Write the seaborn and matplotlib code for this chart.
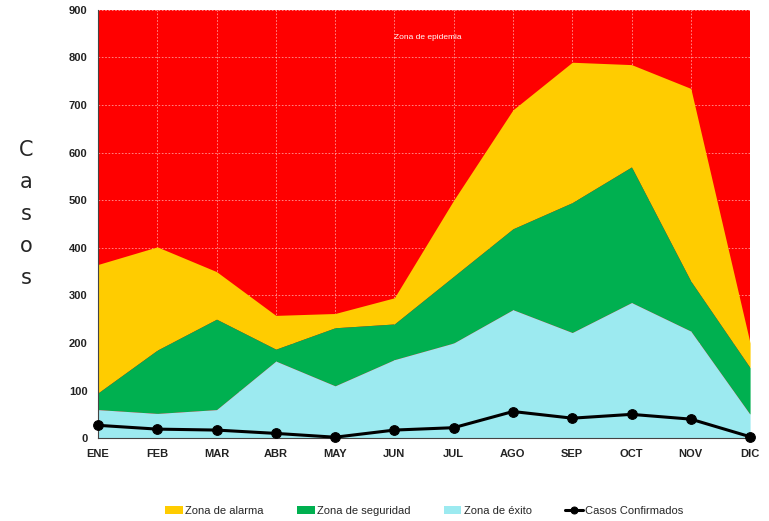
import numpy as np
import pandas as pd
import matplotlib
matplotlib.use("Agg")
import matplotlib.pyplot as plt
import seaborn as sns

# meses y limites superiores de cada zona (valores acumulados)
meses = ["ENE", "FEB", "MAR", "ABR", "MAY", "JUN", "JUL", "AGO", "SEP", "OCT", "NOV", "DIC"]
zona_exito = [60, 52, 60, 162, 110, 165, 200, 270, 222, 285, 225, 50]
zona_seguridad = [95, 185, 250, 187, 232, 240, 340, 440, 495, 570, 330, 148]
zona_alarma = [365, 402, 350, 258, 262, 295, 500, 690, 790, 785, 735, 200]
casos = [27, 19, 17, 10, 2, 17, 22, 56, 42, 50, 40, 3]
y_max = 900

sns.set_style("white")
plt.rcParams['font.family'] = ['Liberation Sans', 'DejaVu Sans']

df = pd.DataFrame({"mes": meses, "x": np.arange(len(meses)), "casos": casos})

fig = plt.figure(figsize=(7.69, 5.21), dpi=100)
ax = fig.add_axes([0.1274, 0.159, 0.848, 0.822])
ax.set_facecolor("#FF0000")

x = df["x"].values
ax.fill_between(x, zona_seguridad, zona_alarma, color="#FFCC00", lw=0, zorder=2, label="Zona de alarma")
ax.fill_between(x, zona_exito, zona_seguridad, color="#00B050", lw=0, zorder=2, label="Zona de seguridad")
ax.fill_between(x, 0, zona_exito, color="#9CEAF0", lw=0, zorder=2, label="Zona de éxito")

sns.lineplot(data=df, x="x", y="casos", ax=ax, color="black", lw=2.2, marker="o",
             markersize=7, markeredgecolor="black", zorder=4, label="Casos Confirmados",
             clip_on=False)

ax.grid(True, color="white", ls=(0, (2, 2)), lw=0.6, alpha=0.6, zorder=1)
ax.set_axisbelow(True)

ax.set_xlim(0, len(meses) - 1)
ax.set_ylim(0, y_max)
ax.set_yticks(range(0, y_max + 1, 100))
ax.set_xticks(x)
ax.set_xticklabels(meses)
ax.tick_params(axis="both", labelsize=8, length=4, width=1, direction="out", color="#333333")
ax.tick_params(axis="x", pad=4)
for lbl in ax.get_xticklabels() + ax.get_yticklabels():
    lbl.set_fontweight("bold")
    lbl.set_color("#222222")
ax.set_xlabel("")
ax.set_ylabel("")

for s in ["top", "right"]:
    ax.spines[s].set_visible(False)
ax.spines["left"].set_color("#444444")
ax.spines["bottom"].set_color("#444444")

ax.text(5.57, 842, "Zona de epidemia", color="white", fontsize=6, ha="center", va="center")

fig.text(0.034, 0.59, "C\na\ns\no\ns", fontsize=15, ha="center", va="center",
         linespacing=1.75, family=["DejaVu Sans"])

handles, labels = ax.get_legend_handles_labels()
leg = ax.legend(handles, labels, loc="center", bbox_to_anchor=(0.5, -0.17), ncol=4, frameon=False,
                fontsize=8, handlelength=1.6, handletextpad=0.2, columnspacing=3.0)
leg.get_lines()[0].set_markersize(5)

fig.savefig("out.png", dpi=100, facecolor="white")
